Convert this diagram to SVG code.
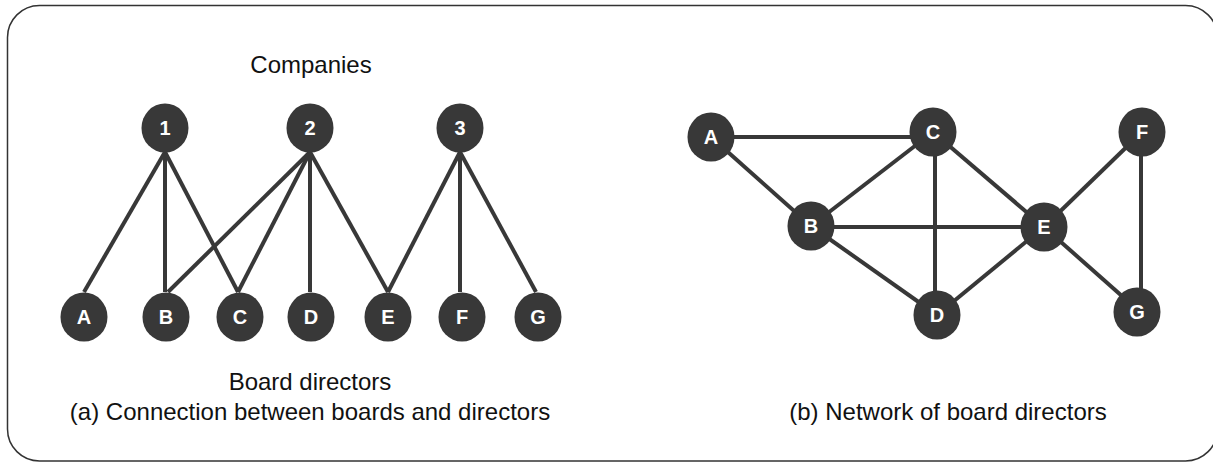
<svg xmlns="http://www.w3.org/2000/svg" width="1213" height="462" viewBox="0 0 1213 462">
<style>
.n ellipse{fill:#383838;}
.n text{fill:#ffffff;font-family:"Liberation Sans",Arial,sans-serif;font-weight:bold;font-size:20px;text-anchor:middle;}
.e line{stroke:#383838;stroke-width:4;}
.t{fill:#111111;font-family:"Liberation Sans",Arial,sans-serif;font-size:24px;text-anchor:middle;}
</style>
<rect x="7.5" y="5.5" width="1210" height="455.5" rx="32" ry="32" fill="none" stroke="#333333" stroke-width="1.5"/>
<g id="connectors" class="e">
<line x1="165" y1="152" x2="84" y2="292"/>
<line x1="165" y1="152" x2="165" y2="292"/>
<line x1="165" y1="152" x2="238" y2="292"/>
<line x1="310" y1="152" x2="168" y2="292"/>
<line x1="310" y1="152" x2="238" y2="292"/>
<line x1="310" y1="152" x2="310" y2="292"/>
<line x1="310" y1="152" x2="388" y2="292"/>
<line x1="460" y1="152" x2="388" y2="292"/>
<line x1="460" y1="152" x2="460" y2="292"/>
<line x1="460" y1="152" x2="536" y2="292"/>
<line x1="711" y1="137" x2="933" y2="137"/>
<line x1="711" y1="137" x2="811" y2="226"/>
<line x1="933" y1="132" x2="811" y2="226"/>
<line x1="935" y1="132" x2="935" y2="315"/>
<line x1="933" y1="132" x2="1044" y2="227"/>
<line x1="811" y1="227" x2="1044" y2="227"/>
<line x1="811" y1="226" x2="937" y2="315"/>
<line x1="1044" y1="227" x2="937" y2="315"/>
<line x1="1044" y1="227" x2="1142" y2="132"/>
<line x1="1044" y1="227" x2="1140" y2="312"/>
<line x1="1141" y1="132" x2="1141" y2="312"/>
</g>
<g id="c1" class="n"><ellipse cx="165" cy="128" rx="23.5" ry="24.5"/><text x="165" y="135">1</text></g>
<g id="c2" class="n"><ellipse cx="310" cy="128" rx="23.5" ry="24.5"/><text x="310" y="135">2</text></g>
<g id="c3" class="n"><ellipse cx="460" cy="128" rx="23.5" ry="24.5"/><text x="460" y="135">3</text></g>
<g id="la" class="n"><ellipse cx="84" cy="317" rx="23.5" ry="24.5"/><text x="84" y="324">A</text></g>
<g id="lb" class="n"><ellipse cx="166" cy="317" rx="23.5" ry="24.5"/><text x="166" y="324">B</text></g>
<g id="lc" class="n"><ellipse cx="240" cy="317" rx="23.5" ry="24.5"/><text x="240" y="324">C</text></g>
<g id="ld" class="n"><ellipse cx="311" cy="317" rx="23.5" ry="24.5"/><text x="311" y="324">D</text></g>
<g id="le" class="n"><ellipse cx="388" cy="317" rx="23.5" ry="24.5"/><text x="388" y="324">E</text></g>
<g id="lf" class="n"><ellipse cx="462" cy="317" rx="23.5" ry="24.5"/><text x="462" y="324">F</text></g>
<g id="lg" class="n"><ellipse cx="538" cy="317" rx="23.5" ry="24.5"/><text x="538" y="324">G</text></g>
<g id="ra" class="n"><ellipse cx="711" cy="137" rx="23.5" ry="24.5"/><text x="711" y="144">A</text></g>
<g id="rc" class="n"><ellipse cx="933" cy="132" rx="23.5" ry="24.5"/><text x="933" y="139">C</text></g>
<g id="rf" class="n"><ellipse cx="1142" cy="132" rx="23.5" ry="24.5"/><text x="1142" y="139">F</text></g>
<g id="rb" class="n"><ellipse cx="811" cy="226" rx="23.5" ry="24.5"/><text x="811" y="233">B</text></g>
<g id="re" class="n"><ellipse cx="1044" cy="227" rx="23.5" ry="24.5"/><text x="1044" y="234">E</text></g>
<g id="rd" class="n"><ellipse cx="937" cy="315" rx="23.5" ry="24.5"/><text x="937" y="322">D</text></g>
<g id="rg" class="n"><ellipse cx="1137" cy="312" rx="23.5" ry="24.5"/><text x="1137" y="319">G</text></g>
<text class="t" x="311" y="73">Companies</text>
<text class="t" x="310" y="390">Board directors</text>
<text class="t" x="310" y="420">(a) Connection between boards and directors</text>
<text class="t" x="948" y="420">(b) Network of board directors</text>
</svg>
